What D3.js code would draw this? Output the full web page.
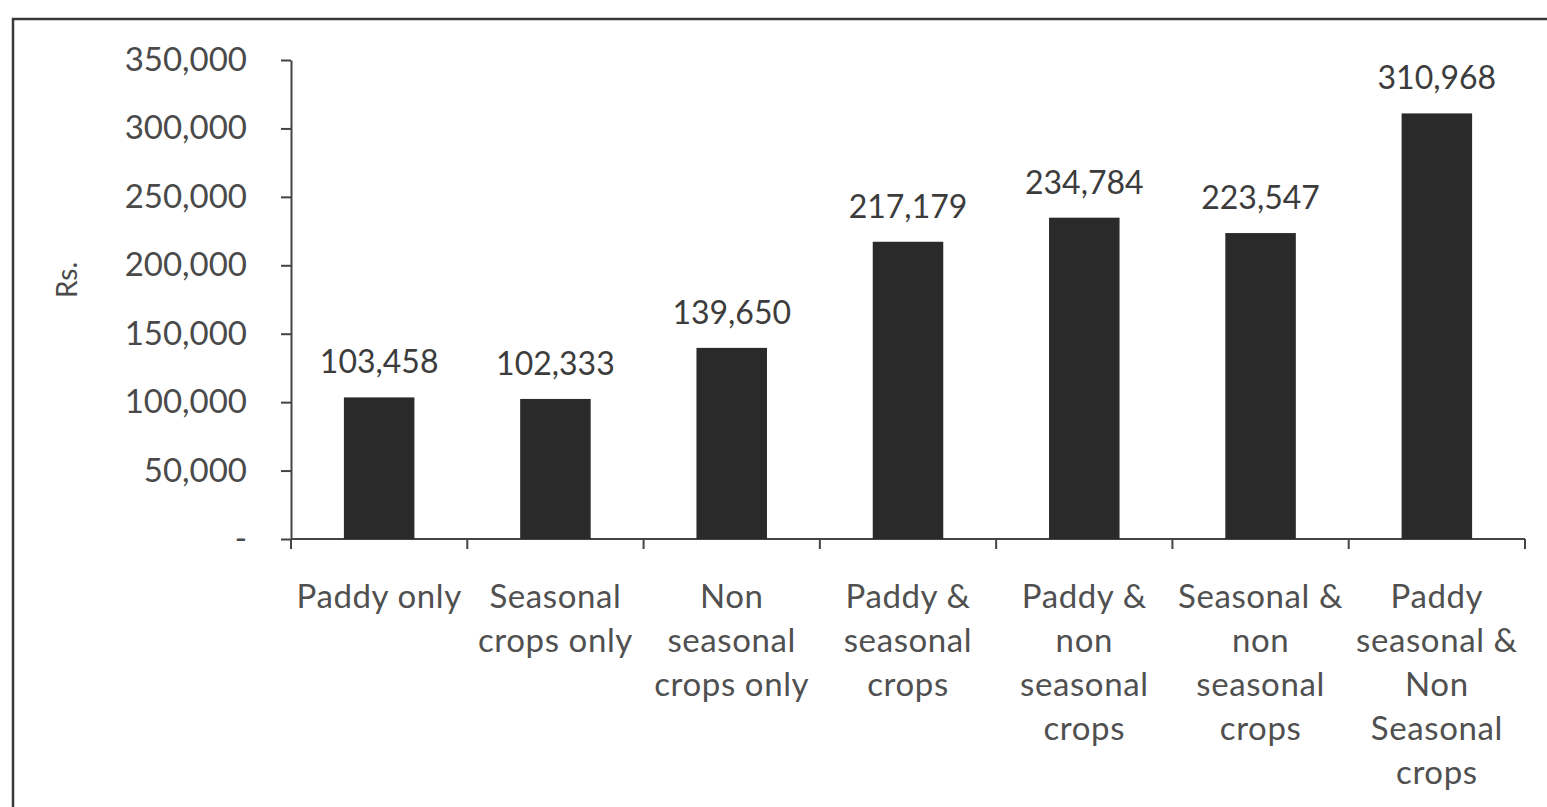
<!DOCTYPE html>
<html>
<head>
<meta charset="utf-8">
<script src="https://cdn.jsdelivr.net/npm/d3@7"></script>
<style>
  body { margin: 0; background: #fff; }
  text { font-family: Lato, "Open Sans", sans-serif; }
</style>
</head>
<body>
<div id="chart"></div>
<script>
// Category labels, already split into lines like the original
const categories = [
    ["Paddy only"],
    ["Seasonal", "crops only"],
    ["Non", "seasonal", "crops only"],
    ["Paddy &", "seasonal", "crops"],
    ["Paddy &", "non", "seasonal", "crops"],
    ["Seasonal &", "non", "seasonal", "crops"],
    ["Paddy", "seasonal &", "Non", "Seasonal", "crops"]
];
const incomes = [103458, 102333, 139650, 217179, 234784, 223547, 310968];
const yTicks = [0, 50000, 100000, 150000, 200000, 250000, 300000, 350000];

const W = 1547, H = 807;
const margin = {top: 60, right: 22, bottom: 268, left: 291};
const width = W - margin.left - margin.right,
      height = H - margin.top - margin.bottom;

const formatNumber = d3.format(",");
const ink = "#4a4a4a";

const svg = d3.select("#chart").append("svg")
    .attr("width", W)
    .attr("height", H);

// outer frame (only top and left edges are visible in the original)
svg.append("path")
    .attr("d", `M13,${H} L13,19 L${W},19`)
    .attr("fill", "none")
    .attr("stroke", "#3a3a3a")
    .attr("stroke-width", 2.5);

const g = svg.append("g")
    .attr("transform", "translate(" + margin.left + "," + margin.top + ")");

const keys = categories.map((c, i) => i);
const xScale = d3.scaleBand().domain(keys).range([0, width]).paddingInner(0.6).paddingOuter(0.3);
const yScale = d3.scaleLinear().domain([0, 350000]).range([height, 0]);

// y axis
const yAxis = g.append("g")
    .call(d3.axisLeft(yScale)
        .tickValues(yTicks)
        .tickSize(10)
        .tickPadding(34)
        .tickSizeOuter(0)
        .tickFormat(d => d === 0 ? "-" : formatNumber(d)));
yAxis.select(".domain").attr("stroke", "#444").attr("stroke-width", 2);
yAxis.selectAll(".tick line").attr("stroke", "#444").attr("stroke-width", 2);
yAxis.selectAll(".tick text")
    .attr("fill", ink)
    .style("font-size", "33px");

// x axis: boundary ticks between categories
const boundaries = d3.range(categories.length + 1).map(i => i * width / categories.length);
g.append("line")
    .attr("x1", 0).attr("x2", width)
    .attr("y1", height).attr("y2", height)
    .attr("stroke", "#444").attr("stroke-width", 2);
g.selectAll(".xtick")
    .data(boundaries)
    .enter().append("line")
    .attr("class", "xtick")
    .attr("x1", d => d).attr("x2", d => d)
    .attr("y1", height).attr("y2", height + 10)
    .attr("stroke", "#444").attr("stroke-width", 2);

// bars
g.selectAll(".bar")
    .data(incomes)
    .enter().append("rect")
    .attr("class", "bar")
    .attr("x", (d, i) => xScale(i))
    .attr("y", d => yScale(d))
    .attr("width", xScale.bandwidth())
    .attr("height", d => height - yScale(d))
    .attr("fill", "#2a2a2a");

// value labels
g.selectAll(".value")
    .data(incomes)
    .enter().append("text")
    .attr("class", "value")
    .attr("x", (d, i) => xScale(i) + xScale.bandwidth() / 2)
    .attr("y", d => yScale(d) - 24)
    .attr("text-anchor", "middle")
    .attr("fill", "#3c3c3c")
    .style("font-size", "32px")
    .text(d => formatNumber(d));

// category labels
const catLabels = g.selectAll(".cat")
    .data(categories)
    .enter().append("text")
    .attr("class", "cat")
    .attr("text-anchor", "middle")
    .attr("fill", "#505050")
    .style("font-size", "33px")
    .style("letter-spacing", "0.6px")
    .attr("transform", (d, i) => "translate(" + (xScale(i) + xScale.bandwidth() / 2) + "," + (height + 69) + ")");
catLabels.selectAll("tspan")
    .data(d => d)
    .enter().append("tspan")
    .attr("x", 0)
    .attr("y", (d, i) => i * 44)
    .text(d => d);

// axis title
svg.append("text")
    .attr("transform", "translate(77,280) rotate(-90)")
    .attr("text-anchor", "middle")
    .attr("fill", ink)
    .style("font-size", "28px")
    .text("Rs.");
</script>
</body>
</html>
